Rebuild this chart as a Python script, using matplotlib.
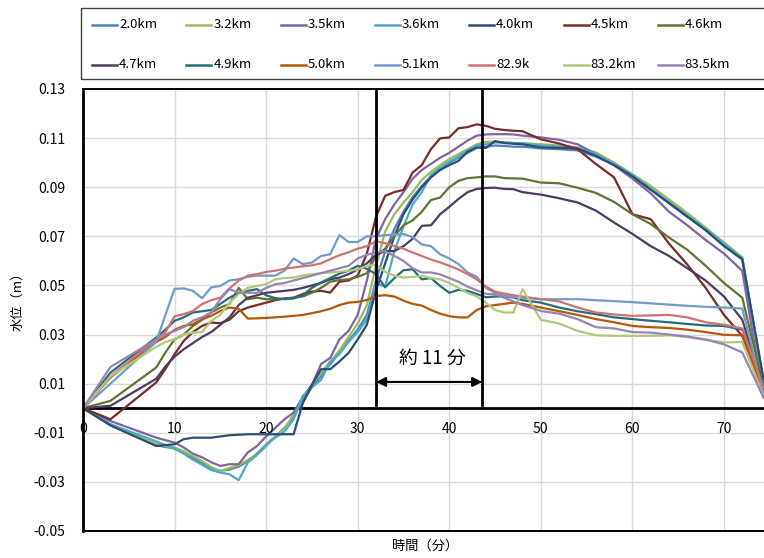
import numpy as np
import matplotlib
matplotlib.use("Agg")
import matplotlib.pyplot as plt
from matplotlib.lines import Line2D
from matplotlib.patches import Rectangle

plt.rcParams['font.family'] = ['Noto Sans CJK JP', 'DejaVu Sans']
plt.rcParams['axes.unicode_minus'] = False

# 時間(分)
t = [0, 3] + list(range(8, 49)) + list(range(50, 73, 2)) + [74.3]

labels = ['2.0km', '3.2km', '3.5km', '3.6km', '4.0km', '4.5km', '4.6km',
          '4.7km', '4.9km', '5.0km', '5.1km', '82.9k', '83.2km', '83.5km']
colors = ['#4F81BD', '#9BBB59', '#8064A2', '#4BACC6', '#2C4D75', '#772C2A', '#5F7530',
          '#4D3B62', '#276A7C', '#B65708', '#729ACA', '#CD7371', '#AFC97A', '#9983B5']

# 水位(m)
km20 = [0, -0.0068,
        -0.015, -0.0158, -0.0163, -0.018, -0.0203, -0.0225, -0.0245, -0.0255, -0.025, -0.0238,
        -0.0215, -0.0185, -0.0148, -0.0115, -0.008, -0.0035, 0.003, 0.0085, 0.013, 0.018,
        0.0225, 0.0275, 0.032, 0.038, 0.052, 0.064, 0.073, 0.08, 0.086, 0.0905,
        0.0945, 0.0975, 0.1, 0.102, 0.104, 0.106, 0.1065, 0.107, 0.1068, 0.1065,
        0.1065, 0.1058, 0.1055, 0.105, 0.1025, 0.099, 0.0943, 0.089, 0.0835, 0.078, 0.0725, 0.0665, 0.0605, 0.012]
km32 = [0, -0.0065,
        -0.0145, -0.0155, -0.016, -0.0175, -0.0195, -0.0215, -0.024, -0.0256, -0.0243, -0.0232,
        -0.021, -0.019, -0.0155, -0.0115, -0.0085, -0.0024, 0.0045, 0.0095, 0.0145, 0.019,
        0.0235, 0.029, 0.0345, 0.042, 0.058, 0.072, 0.079, 0.0838, 0.088, 0.093,
        0.0963, 0.099, 0.1015, 0.1035, 0.1055, 0.1075, 0.1085, 0.1085, 0.1083, 0.108,
        0.108, 0.1075, 0.107, 0.1062, 0.1042, 0.1, 0.0953, 0.0905, 0.085, 0.0795, 0.0735, 0.0675, 0.0615, 0.010]
km35 = [0, -0.0052,
        -0.012, -0.013, -0.014, -0.016, -0.0185, -0.02, -0.022, -0.0235, -0.0228, -0.0228,
        -0.018, -0.0154, -0.0115, -0.008, -0.0045, -0.0018, 0.0045, 0.0095, 0.018, 0.0205,
        0.028, 0.0315, 0.038, 0.052, 0.069, 0.077, 0.083, 0.088, 0.0935, 0.097,
        0.0995, 0.102, 0.104, 0.1065, 0.109, 0.111, 0.1115, 0.1116, 0.1116, 0.1115,
        0.111, 0.1103, 0.1093, 0.1075, 0.1035, 0.099, 0.0935, 0.0875, 0.08, 0.0745, 0.0685, 0.063, 0.0559, 0.0044]
km36 = [0, -0.0065,
        -0.0135, -0.015, -0.0165, -0.0185, -0.021, -0.023, -0.0252, -0.0262, -0.0269, -0.0293,
        -0.0221, -0.019, -0.015, -0.012, -0.0095, -0.0045, 0.005, 0.0085, 0.0115, 0.019,
        0.022, 0.027, 0.031, 0.036, 0.051, 0.0495, 0.064, 0.074, 0.083, 0.088,
        0.095, 0.098, 0.1005, 0.1025, 0.105, 0.107, 0.1075, 0.1082, 0.1082, 0.108,
        0.1078, 0.107, 0.1065, 0.106, 0.1035, 0.0995, 0.095, 0.0895, 0.084, 0.0785, 0.073, 0.067, 0.061, 0.011]
km40 = [0, -0.007,
        -0.0154, -0.015, -0.0147, -0.0126, -0.012, -0.012, -0.012, -0.0115, -0.011, -0.0108,
        -0.0106, -0.0106, -0.0106, -0.0106, -0.0106, -0.0106, 0.002, 0.0095, 0.0159, 0.0159,
        0.019, 0.0225, 0.028, 0.034, 0.048, 0.059, 0.07, 0.079, 0.085, 0.09,
        0.094, 0.097, 0.099, 0.1007, 0.1045, 0.1062, 0.106, 0.1088, 0.108, 0.1077,
        0.1075, 0.1062, 0.106, 0.1058, 0.1028, 0.099, 0.0945, 0.089, 0.0835, 0.078, 0.0725, 0.066, 0.0607, 0.012]
km45 = [0, -0.0045,
        0.0105, 0.016, 0.022, 0.0274, 0.031, 0.0335, 0.0349, 0.0346, 0.036, 0.0395,
        0.041, 0.042, 0.043, 0.044, 0.0447, 0.045, 0.0465, 0.0475, 0.0478, 0.0471,
        0.0515, 0.052, 0.054, 0.063, 0.078, 0.0865, 0.088, 0.0889, 0.096, 0.099,
        0.1055, 0.1099, 0.1103, 0.114, 0.1145, 0.1156, 0.115, 0.1138, 0.1133, 0.113,
        0.1128, 0.1095, 0.1078, 0.1055, 0.0995, 0.094, 0.079, 0.077, 0.067, 0.0585, 0.049, 0.038, 0.0294, 0.0077]
km46 = [0, 0.003,
        0.0166, 0.0227, 0.028, 0.03, 0.0335, 0.036, 0.039, 0.041, 0.0425, 0.049,
        0.0444, 0.045, 0.0444, 0.0444, 0.0446, 0.045, 0.0455, 0.047, 0.049, 0.0515,
        0.0522, 0.0525, 0.0535, 0.055, 0.062, 0.065, 0.07, 0.0745, 0.0765, 0.08,
        0.0848, 0.0858, 0.09, 0.0926, 0.0937, 0.094, 0.0944, 0.0944, 0.0937, 0.0936,
        0.0935, 0.0919, 0.0916, 0.0898, 0.0877, 0.084, 0.079, 0.075, 0.0695, 0.0645, 0.058, 0.051, 0.045, 0.009]
km47 = [0, 0.001,
        0.012, 0.017, 0.021, 0.024, 0.0265, 0.029, 0.031, 0.034, 0.037, 0.042,
        0.045, 0.046, 0.047, 0.0474, 0.0478, 0.0482, 0.049, 0.05, 0.051, 0.0525,
        0.0532, 0.0546, 0.0565, 0.059, 0.0625, 0.064, 0.064, 0.066, 0.069, 0.0743,
        0.0745, 0.079, 0.082, 0.0852, 0.088, 0.0893, 0.0897, 0.0898, 0.0893, 0.0892,
        0.088, 0.087, 0.0855, 0.0838, 0.0805, 0.0756, 0.071, 0.066, 0.062, 0.057, 0.052, 0.0455, 0.036, 0.008]
km49 = [0, 0.0145,
        0.0288, 0.032, 0.0356, 0.037, 0.039, 0.0395, 0.04, 0.0425, 0.045, 0.047,
        0.0478, 0.0485, 0.046, 0.0448, 0.0444, 0.0447, 0.046, 0.049, 0.0512, 0.053,
        0.0548, 0.056, 0.058, 0.0568, 0.0546, 0.0492, 0.053, 0.0562, 0.0566, 0.0525,
        0.053, 0.0498, 0.047, 0.0482, 0.0478, 0.0465, 0.0452, 0.0455, 0.0455, 0.0451,
        0.044, 0.043, 0.041, 0.0395, 0.0383, 0.037, 0.0363, 0.0356, 0.035, 0.0343, 0.0337, 0.0335, 0.032, 0.0098]
km50 = [0, 0.0125,
        0.027, 0.029, 0.032, 0.0335, 0.0342, 0.0362, 0.0376, 0.0396, 0.041, 0.0405,
        0.0365, 0.0366, 0.0368, 0.037, 0.0373, 0.0376, 0.038, 0.0387, 0.0395, 0.0405,
        0.042, 0.043, 0.0433, 0.0441, 0.0457, 0.046, 0.0455, 0.0438, 0.0425, 0.0418,
        0.04, 0.0385, 0.0375, 0.037, 0.037, 0.04, 0.0415, 0.042, 0.0425, 0.043,
        0.0425, 0.041, 0.0395, 0.038, 0.0363, 0.035, 0.0335, 0.033, 0.0327, 0.032, 0.031, 0.0299, 0.0297, 0.0065]
km51 = [0, 0.010,
        0.027, 0.038, 0.0486, 0.0488, 0.0478, 0.0448, 0.0492, 0.0498, 0.052, 0.0525,
        0.0535, 0.054, 0.054, 0.054, 0.056, 0.061, 0.0587, 0.0593, 0.062, 0.0627,
        0.0705, 0.0677, 0.0677, 0.07, 0.07, 0.0705, 0.0707, 0.0709, 0.0697, 0.0667,
        0.066, 0.0627, 0.061, 0.0587, 0.0553, 0.0535, 0.049, 0.047, 0.0458, 0.0452,
        0.045, 0.0444, 0.0444, 0.0444, 0.044, 0.0436, 0.0432, 0.0427, 0.0422, 0.0417, 0.0413, 0.041, 0.0406, 0.006]
km829 = [0, 0.013,
         0.028, 0.031, 0.0374, 0.0383, 0.0396, 0.0424, 0.044, 0.045, 0.0488, 0.052,
         0.054, 0.0546, 0.0555, 0.056, 0.0568, 0.0573, 0.0578, 0.0582, 0.059, 0.0607,
         0.0623, 0.0635, 0.065, 0.066, 0.068, 0.0672, 0.066, 0.065, 0.0634, 0.062,
         0.0605, 0.0594, 0.058, 0.0565, 0.0546, 0.0525, 0.0495, 0.0475, 0.0467, 0.046,
         0.0455, 0.0444, 0.0435, 0.041, 0.039, 0.0382, 0.0376, 0.0378, 0.038, 0.037, 0.035, 0.034, 0.0325, 0.0085]
km832 = [0, 0.013,
         0.025, 0.027, 0.028, 0.03, 0.0308, 0.031, 0.0356, 0.038, 0.043, 0.0465,
         0.049, 0.0498, 0.0505, 0.0525, 0.053, 0.0532, 0.054, 0.0546, 0.055, 0.0553,
         0.0556, 0.056, 0.0565, 0.058, 0.0585, 0.0555, 0.054, 0.0532, 0.0535, 0.0539,
         0.053, 0.0525, 0.051, 0.049, 0.047, 0.0455, 0.043, 0.04, 0.039, 0.039,
         0.0485, 0.036, 0.0345, 0.0315, 0.0297, 0.0295, 0.0294, 0.0295, 0.0297, 0.029, 0.0278, 0.0268, 0.027, 0.005]
km835 = [0, 0.0168,
         0.028, 0.03, 0.0315, 0.033, 0.0356, 0.037, 0.039, 0.0444, 0.0485, 0.047,
         0.047, 0.047, 0.049, 0.0505, 0.051, 0.052, 0.053, 0.054, 0.055, 0.056,
         0.057, 0.058, 0.061, 0.0625, 0.0634, 0.064, 0.062, 0.06, 0.057, 0.0553,
         0.0553, 0.0545, 0.053, 0.0515, 0.0495, 0.048, 0.0466, 0.0464, 0.045, 0.0435,
         0.042, 0.0396, 0.0385, 0.0363, 0.033, 0.0325, 0.031, 0.0308, 0.03, 0.0292, 0.028, 0.026, 0.0227, 0.0045]

series = [km20, km32, km35, km36, km40, km45, km46, km47, km49, km50, km51, km829, km832, km835]

W, H = 764, 558
fig = plt.figure(figsize=(W / 100, H / 100), dpi=100)
ax = fig.add_axes([83 / W, 1 - 531 / H, 1 - 83 / W, (531 - 89) / H])

for y, lab, c in zip(series, labels, colors):
    ax.plot(t, y, color=c, lw=1.6, label=lab, zorder=2)

ax.set_xlim(0, 74.37)
ax.set_ylim(-0.05, 0.13)
yt = np.arange(-0.05, 0.1301, 0.02)
ax.set_yticks(yt)
ax.set_yticklabels([f'{v:.2f}' for v in yt], fontsize=10)
ax.set_xticks(range(0, 71, 10))
ax.set_xticklabels([])
ax.tick_params(axis='both', length=0)
ax.tick_params(axis='y', pad=13)
ax.grid(color='#D9D9D9', lw=1, zorder=0)
ax.set_axisbelow(True)

for s in ['top', 'bottom']:
    ax.spines[s].set_color('black')
    ax.spines[s].set_linewidth(1.4)
ax.spines['left'].set_color('black')
ax.spines['left'].set_linewidth(2)
ax.spines['right'].set_visible(False)

ax.axhline(0, color='black', lw=2, zorder=1.5)
for x in range(0, 71, 10):
    ax.text(x, -0.0086, str(x), ha='center', va='center', fontsize=10)

# 到達時間差
ax.plot([32, 32], [0.0015, 0.13], color='black', lw=2, zorder=4, clip_on=False)
ax.plot([43.6, 43.6], [0.0015, 0.13], color='black', lw=2, zorder=4, clip_on=False)
ax.annotate('', xy=(43.6, 0.0107), xytext=(32, 0.0107),
            arrowprops=dict(arrowstyle='<|-|>', color='black', lw=1.5,
                            mutation_scale=14, shrinkA=0, shrinkB=0), zorder=4)
ax.text(38.1, 0.0205, '約 11 分', ha='center', va='center', fontsize=13.5)

fig.text(18 / W, 1 - 298 / H, '水位（m）', rotation=90, ha='center', va='center', fontsize=9.5)
fig.text(425 / W, 1 - 546 / H, '時間（分）', ha='center', va='center', fontsize=9.5)

# 凡例 (Excel風に行方向へ並べる)
fig.patches.append(Rectangle((81 / W, 1 - 79 / H), (W + 5 - 81) / W, 71 / H,
                             transform=fig.transFigure, fill=False,
                             edgecolor='#404040', lw=1.0))
for i, (lab, c) in enumerate(zip(labels, colors)):
    row, col = divmod(i, 7)
    x0 = (92 + col * 94.3) / W
    yy = 1 - (25 + row * 40) / H
    fig.lines.append(Line2D([x0, x0 + 25 / W], [yy, yy], transform=fig.transFigure,
                            color=c, lw=1.8))
    fig.text(x0 + 27 / W, yy, lab, ha='left', va='center', fontsize=9.5)

fig.savefig('out.png', dpi=100)
